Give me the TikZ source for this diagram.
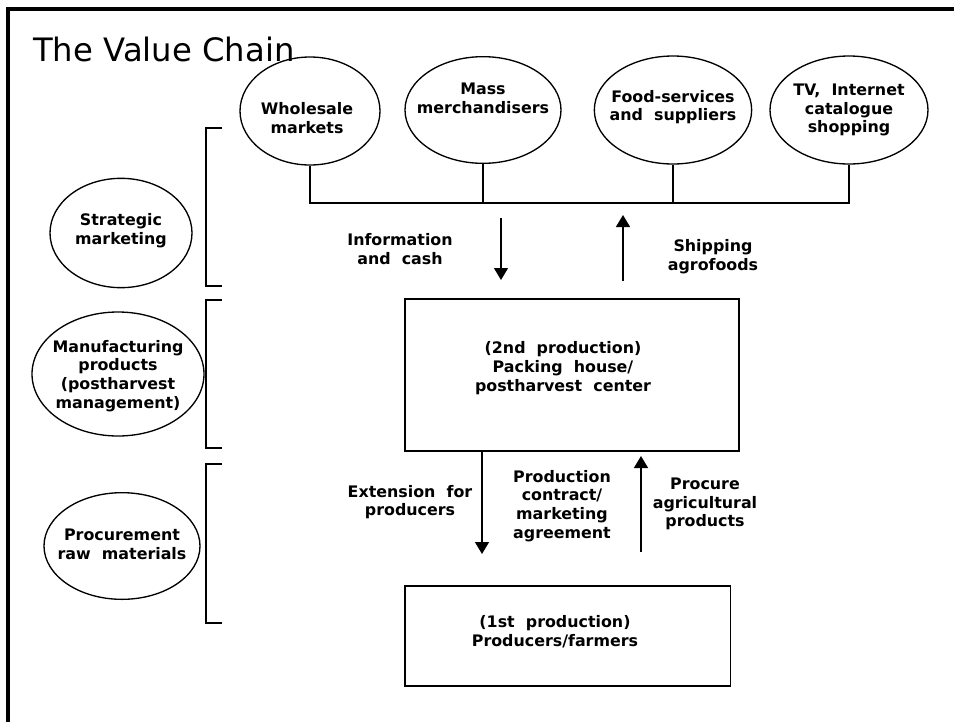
\documentclass[tikz,border=0pt]{standalone}
\usepackage{fontspec}
\setmainfont{DejaVu Sans}
\usetikzlibrary{shapes.geometric,arrows.meta,positioning}

\newcommand{\wsp}{\hspace{0.7em}}

\tikzset{
  oval/.style={draw, ellipse, line width=1pt, inner sep=0pt},
  stage/.style={draw, rectangle, line width=1pt, inner sep=0pt},
  lbl/.style={align=center, inner sep=0pt, font=\bfseries\fontsize{11.9}{14}\selectfont},
  flow/.style={line width=1pt, -{Triangle[width=10.5pt,length=9pt]}},
  link/.style={line width=0.9pt},
}

\begin{document}
\begin{tikzpicture}[x=0.75pt,y=-0.75pt]
\useasboundingbox (0,0) rectangle (954,722);

%Frame
\draw[line width=2.4pt] (8,722) -- (8,9) -- (954,9);
% Title
\node[anchor=base west, inner sep=0pt, font=\fontsize{24.2}{29}\selectfont] (title) at (33,61) {The Value Chain};

%Shape: Ellipses (outlets)
\node[oval, minimum width=105pt, minimum height=81pt] (whole) at (310,111) {};
\node[oval, minimum width=117pt, minimum height=80pt] (mass) at (483,110) {};
\node[oval, minimum width=118pt, minimum height=81pt] (food) at (673,110) {};
\node[oval, minimum width=118.5pt, minimum height=81pt] (tv) at (849,110) {};
%Shape: Ellipses (functions)
\node[oval, minimum width=106.5pt, minimum height=82pt] (strat) at (121,233) {};
\node[oval, minimum width=129pt, minimum height=93pt] (manuf) at (118,374) {};
\node[oval, minimum width=117pt, minimum height=80pt] (procure) at (122,546) {};
%Shape: Rectangles
\node[stage, minimum width=250.5pt, minimum height=114pt] (pack) at (572,375) {};
\node[stage, minimum width=244pt, minimum height=75pt] (farm) at (567.5,636) {};

% Text Node
\node[lbl] (wholeT) at (307,118) {Wholesale\\markets};
\node[lbl] (massT) at (483,98) {Mass\\merchandisers};
\node[lbl] (foodT) at (673,107) {Food-services\\and\wsp suppliers};
\node[lbl] (tvT) at (849,110) {TV,\wsp Internet\\catalogue\\shopping};
\node[lbl] (stratT) at (121,231) {Strategic\\marketing};
\node[lbl] (manufT) at (118,376) {Manufacturing\\products\\(postharvest\\management)};
\node[lbl] (procureT) at (122,544) {Procurement\\raw\wsp materials};
\node[lbl] (packT) at (563,368) {(2nd\wsp production)\\Packing\wsp house/\\postharvest\wsp center};
\node[lbl] (farmT) at (555,632) {(1st\wsp production)\\Producers/farmers};

%Straight Lines (bus)
\coordinate (busE) at (849,203);
\draw[link] (whole.south) |- (busE) -- (tv.south);
\draw[link] (mass.south) -- (mass.south |- busE);
\draw[link] (food.south) -- (food.south |- busE);

%Brackets
\draw[link] (222,128) -| (206,286) -- (222,286);
\draw[link] (222,300) -| (206,448) -- (222,448);
\draw[link] (222,464) -| (206,623) -- (222,623);

%Arrows
\coordinate (infoS) at (501,218);
\coordinate (infoE) at (501,280);
\draw[flow] (infoS) -- (infoE);
\coordinate (shipS) at (623,281);
\coordinate (shipE) at (623,215);
\draw[flow] (shipS) -- (shipE);
\coordinate (extE) at (482,554);
\draw[flow] (extE |- pack.south) -- (extE);
\coordinate (procS) at (641,552);
\coordinate (procE) at (641,456);
\draw[flow] (procS) -- (procE);

% Text Node
\node[lbl] (infoL) at (400,249) {Information\\and\wsp cash};
\node[lbl] (shipL) at (713,257) {Shipping\\agrofoods};
\node[lbl] (extL) at (410,502) {Extension\wsp for\\producers};
\node[lbl] (contractL) at (562,506) {Production\\contract/\\marketing\\agreement};
\node[lbl] (procL) at (705,504) {Procure\\agricultural\\products};

\end{tikzpicture}
\end{document}
